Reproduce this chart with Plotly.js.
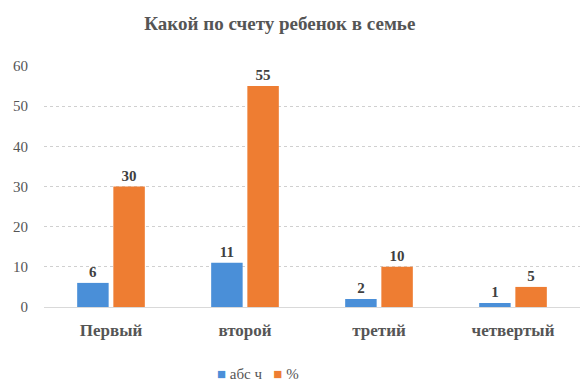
<!DOCTYPE html>
<html><head><meta charset="utf-8">
<script src="https://cdn.plot.ly/plotly-3.0.1.min.js"></script>
<style>html,body{margin:0;padding:0;background:#fff}#c{width:584px;height:383px}</style>
</head><body><div id="c"></div>
<script>
const categories = ["Первый", "второй", "третий", "четвертый"];
const absValues = [6, 11, 2, 1];
const pctValues = [30, 55, 10, 5];
const seriesNames = ["абс ч", "%"];
const seriesColors = ["#4a8fd8", "#ee7d32"];
const yTicks = [0, 10, 20, 30, 40, 50, 60];

const font = "serif";
const mk = (name, y, color) => ({
  type: "bar", name, x: categories, y,
  marker: {color},
  text: y.map(String), textposition: "outside", cliponaxis: false,
  textfont: {family: font, size: 15, color: "#404040", weight: "bold"}
});
const data = [mk(seriesNames[0], absValues, seriesColors[0]), mk(seriesNames[1], pctValues, seriesColors[1])];
const legendText = seriesNames.map((n, i) => '<span style="color:' + seriesColors[i] + '">■</span> ' + n).join('   ');
const layout = {
  width: 584, height: 383,
  font: {family: font},
  margin: {l: 44, r: 4, t: 66, b: 76},
  paper_bgcolor: "#fff", plot_bgcolor: "#fff",
  title: {text: "<b>Какой по счету ребенок в семье</b>", xref: "paper", x: 0.44, xanchor: "center", y: 0.94, yanchor: "middle",
    font: {family: font, size: 19, color: "#555"}},
  barmode: "group", bargap: 0.46, bargroupgap: 0.13,
  showlegend: false,
  annotations: [{text: legendText, xref: "paper", yref: "paper", x: 0.4, y: -0.28, xanchor: "center", yanchor: "middle",
    showarrow: false, font: {family: font, size: 15, color: "#555"}}],
  xaxis: {tickfont: {family: font, size: 17, color: "#555", weight: "bold"}, showline: true, linecolor: "#d9d9d9",
    ticks: "", showgrid: false, ticklabelstandoff: 8},
  yaxis: {range: [0, 60], tickvals: yTicks, tickfont: {family: font, size: 15, color: "#555"},
    showgrid: true, gridcolor: "#d0d0d0", griddash: "dot", zeroline: false, ticks: "", ticklabelstandoff: 15}
};
Plotly.newPlot("c", data, layout, {displayModeBar: false});
</script></body></html>
